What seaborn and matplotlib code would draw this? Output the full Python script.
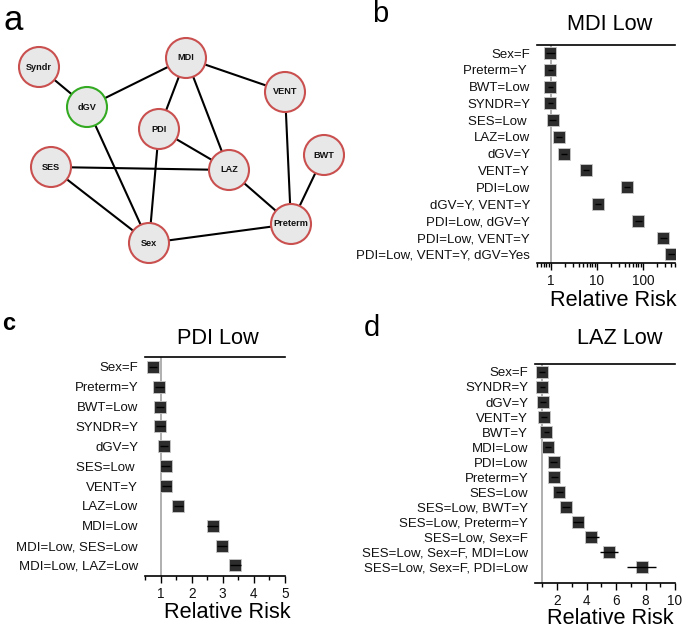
import numpy as np
import pandas as pd
import matplotlib
matplotlib.use('Agg')
from matplotlib import pyplot as plt
from matplotlib.patches import Circle
from matplotlib.ticker import FixedLocator, LogLocator, NullFormatter
import seaborn as sns

sns.set_theme(style='white')
plt.rcParams['font.family'] = ['Liberation Sans', 'DejaVu Sans']
plt.rcParams['text.color'] = 'black'

W, H = 685, 630

# ---------------- panel a : network ----------------
nodes = ['Syndr', 'dGV', 'MDI', 'VENT', 'PDI', 'BWT', 'SES', 'LAZ', 'Sex', 'Preterm']
node_x = [39, 87, 186, 285, 159, 324, 51, 229, 149, 291]
node_y = [67, 107, 58, 92, 129, 155, 167, 170, 243, 224]
edges = [('Syndr', 'dGV'), ('dGV', 'MDI'), ('dGV', 'Sex'), ('MDI', 'PDI'),
         ('MDI', 'LAZ'), ('MDI', 'VENT'), ('VENT', 'Preterm'), ('PDI', 'LAZ'),
         ('PDI', 'Sex'), ('SES', 'LAZ'), ('SES', 'Sex'), ('Sex', 'Preterm'),
         ('LAZ', 'Preterm'), ('BWT', 'Preterm')]

# ---------------- panel b : MDI Low ----------------
labels_b = ['Sex=F', 'Preterm=Y ', 'BWT=Low', 'SYNDR=Y', 'SES=Low ', 'LAZ=Low', 'dGV=Y',
            'VENT=Y', 'PDI=Low', 'dGV=Y, VENT=Y', 'PDI=Low, dGV=Y', 'PDI=Low, VENT=Y',
            'PDI=Low, VENT=Y, dGV=Yes']
rr_b = [0.98, 0.98, 0.98, 0.97, 1.1, 1.52, 1.95, 5.8, 45, 10.5, 80, 280, 413]
lo_b = [0.78, 0.85, 0.86, 0.85, 0.9, 1.3, 1.7, 5.0, 38, 9.0, 68, 240, 350]
hi_b = [1.25, 1.12, 1.12, 1.1, 1.3, 1.75, 2.2, 6.7, 53, 12.2, 94, 330, 490]

# ---------------- panel c : PDI Low ----------------
labels_c = ['Sex=F', 'Preterm=Y', 'BWT=Low', 'SYNDR=Y', 'dGV=Y', 'SES=Low ', 'VENT=Y',
            'LAZ=Low', 'MDI=Low', 'MDI=Low, SES=Low', 'MDI=Low, LAZ=Low']
rr_c = [0.76, 0.96, 0.98, 0.99, 1.10, 1.17, 1.18, 1.57, 2.67, 2.98, 3.40]
lo_c = [0.62, 0.82, 0.84, 0.86, 0.97, 1.03, 1.04, 1.42, 2.50, 2.82, 3.22]
hi_c = [0.90, 1.10, 1.12, 1.13, 1.24, 1.31, 1.32, 1.72, 2.85, 3.15, 3.58]

# ---------------- panel d : LAZ Low ----------------
labels_d = ['Sex=F', 'SYNDR=Y', 'dGV=Y', 'VENT=Y', 'BWT=Y', 'MDI=Low', 'PDI=Low',
            'Preterm=Y', 'SES=Low', 'SES=Low, BWT=Y', 'SES=Low, Preterm=Y', 'SES=Low, Sex=F',
            'SES=Low, Sex=F, MDI=Low', 'SES=Low, Sex=F, PDI=Low']
rr_d = [0.99, 0.99, 1.03, 1.10, 1.28, 1.37, 1.78, 1.80, 2.16, 2.63, 3.42, 4.31, 5.51, 7.75]
lo_d = [0.80, 0.82, 0.84, 0.90, 1.08, 1.15, 1.55, 1.57, 1.90, 2.35, 3.10, 3.98, 4.88, 6.76]
hi_d = [1.20, 1.18, 1.22, 1.30, 1.48, 1.60, 2.00, 2.03, 2.42, 2.90, 3.74, 4.81, 6.16, 8.70]


fig = plt.figure(figsize=(W / 100, H / 100), dpi=100)


def px_axes(l, t, r, b):
    return fig.add_axes([l / W, 1 - b / H, (r - l) / W, (b - t) / H])


def ftext(x, y, s, **kw):
    fig.text(x / W, 1 - y / H, s, ha='center', va='center', **kw)


def forest(ax, labels, rr, lo, hi, ylim):
    df = pd.DataFrame({'factor': labels, 'rr': rr, 'lo': lo, 'hi': hi,
                       'row': np.arange(len(labels))})
    ax.axvline(1, color='#9a9a9a', lw=1.1, zorder=1)
    sns.scatterplot(data=df, x='rr', y='row', marker='s', s=72, color='#2d2d2d',
                    edgecolor='#c8c8c8', linewidth=0.6, ax=ax, zorder=3)
    ax.hlines(df['row'], df['lo'], df['hi'], color='black', lw=1.0, zorder=4)
    ax.set_yticks(df['row'])
    ax.set_yticklabels(labels)
    ax.set_ylim(ylim)
    ax.set_xlabel('')
    ax.set_ylabel('')
    for s in ['left', 'right']:
        ax.spines[s].set_visible(False)
    for s in ['top', 'bottom']:
        ax.spines[s].set_color('black')
        ax.spines[s].set_linewidth(1.2)
    ax.tick_params(axis='y', left=False, length=0, pad=5, labelsize=9.5, labelcolor='#111111')
    ax.tick_params(axis='x', which='both', bottom=True, direction='out', color='black',
                   width=1.0, labelsize=9.8, labelcolor='#111111', pad=3)
    ax.tick_params(axis='x', which='major', length=5)
    ax.tick_params(axis='x', which='minor', length=3)
    ax.patch.set_alpha(0)


# panel a
ax_a = px_axes(0, 0, 345, 300)
ax_a.set_xlim(0, 345)
ax_a.set_ylim(300, 0)
ax_a.axis('off')
pos = {n: (x, y) for n, x, y in zip(nodes, node_x, node_y)}
for a, b in edges:
    ax_a.plot([pos[a][0], pos[b][0]], [pos[a][1], pos[b][1]], color='black', lw=1.5, zorder=1)
for n in nodes:
    ec = '#33aa22' if n == 'dGV' else '#c9504f'
    ax_a.add_patch(Circle(pos[n], 20, facecolor='#e8e8e8', edgecolor=ec, lw=1.5, zorder=3))
    ax_a.text(pos[n][0], pos[n][1], n, ha='center', va='center', fontsize=6.6,
              fontweight='bold', color='#111111', zorder=4)

# panel b
ax_b = px_axes(537, 45, 675, 263)
forest(ax_b, labels_b, rr_b, lo_b, hi_b, (12.52, -0.48))
ax_b.set_xscale('log')
ax_b.set_xlim(0.5, 500)
ax_b.xaxis.set_major_locator(FixedLocator([1, 10, 100]))
ax_b.set_xticklabels(['1', '10', '100'])
ax_b.xaxis.set_minor_locator(LogLocator(base=10, subs=np.arange(2, 10)))
ax_b.xaxis.set_minor_formatter(NullFormatter())

# panel c
ax_c = px_axes(145, 357, 285, 576)
forest(ax_c, labels_c, rr_c, lo_c, hi_c, (10.53, -0.5))
ax_c.set_xlim(0.5, 5)
ax_c.xaxis.set_major_locator(FixedLocator([1, 2, 3, 4, 5]))
ax_c.set_xticklabels(['1', '2', '3', '4', '5'])
ax_c.xaxis.set_minor_locator(FixedLocator([0.5, 1.5, 2.5, 3.5, 4.5]))

# panel d
ax_d = px_axes(535, 364, 675, 583)
forest(ax_d, labels_d, rr_d, lo_d, hi_d, (14.05, -0.53))
ax_d.set_xlim(0.5, 10)
ax_d.xaxis.set_major_locator(FixedLocator([2, 4, 6, 8, 10]))
ax_d.set_xticklabels(['2', '4', '6', '8', '10'])
ax_d.xaxis.set_minor_locator(FixedLocator([1, 3, 5, 7, 9]))

# titles, axis labels, panel letters
ftext(610, 25, 'MDI Low', fontsize=15.7)
ftext(218, 339, 'PDI Low', fontsize=15.7)
ftext(620, 339, 'LAZ Low', fontsize=15.7)
ftext(613, 300, 'Relative Risk', fontsize=15.7)
ftext(227, 613, 'Relative Risk', fontsize=15.7)
ftext(610, 618, 'Relative Risk', fontsize=15.7)
ftext(13, 20, 'a', fontsize=25)
ftext(380, 14, 'b', fontsize=21)
ftext(9, 324, 'c', fontsize=17, fontweight='bold')
ftext(372, 328, 'd', fontsize=21)

fig.savefig('out.png', dpi=100)
